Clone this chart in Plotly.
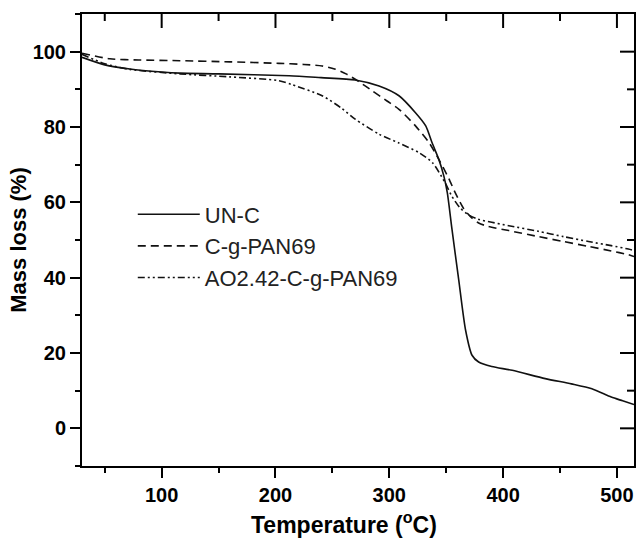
import plotly.graph_objects as go

# UN-C (solid)
t_unc = [30, 50, 72, 100, 116, 150, 212, 240, 270, 291, 308.5, 323, 332, 337.6, 343.5, 348, 351,
         355, 361, 367, 372.7, 378.5, 390, 408, 437, 460, 478, 495, 505, 515]
m_unc = [98.5, 96.5, 95.4, 94.6, 94.3, 94.1, 93.6, 93.1, 92.5, 90.9, 88.3, 83.8, 80.3, 75.8, 71.4,
         66.9, 62.5, 53, 39.4, 26.1, 19.4, 17.6, 16.4, 15.4, 13.2, 11.8, 10.5, 8.3, 7.3, 6.3]

# C-g-PAN69 (dashed)
t_pan = [30, 54.5, 80, 116, 160, 203, 225, 241, 252, 262, 273, 285, 298, 308.5, 323, 335, 343.5,
         352, 358, 365, 372, 378.5, 387, 405, 431, 453, 475, 495, 510, 515]
m_pan = [99.6, 98.1, 97.8, 97.6, 97.3, 96.9, 96.6, 96.2, 95.4, 94.1, 92.1, 89.6, 86.9, 84.7, 80.3,
         75.8, 71.4, 66.5, 62.5, 58.5, 56, 54.5, 53.6, 52.5, 50.9, 49.6, 48.3, 47.1, 46.1, 45.6]

# AO2.42-C-g-PAN69 (dash-dot-dot)
t_ao = [30, 50, 72, 116, 160, 203, 215, 241, 258, 270, 291, 308, 326, 338, 349, 355, 362, 370,
        378, 390, 405, 431, 453, 475, 495, 510, 515]
m_ao = [99.3, 96.8, 95.3, 94.1, 93.3, 92.3, 91.2, 88.3, 85.0, 82.1, 78.1, 75.8, 73.2, 70.5, 65.2,
        61.6, 58.6, 56.6, 55.5, 54.7, 53.8, 52.3, 50.9, 49.6, 48.5, 47.6, 47.2]

x_range = [30, 515]
y_range = [-10, 110]

# tick positions for the inward ticks on the top / right frame
x_major = [100, 200, 300, 400, 500]
x_minor = [50, 150, 250, 350, 450]
y_major = [0, 20, 40, 60, 80, 100]
y_minor = [10, 30, 50, 70, 90]

FONT = "Liberation Sans, Arial, sans-serif"
LC = "#111111"

fig = go.Figure()
fig.add_trace(go.Scatter(x=t_unc, y=m_unc, mode="lines", name="UN-C",
                         line=dict(color=LC, width=1.6, shape="spline", smoothing=0.7)))
fig.add_trace(go.Scatter(x=t_pan, y=m_pan, mode="lines", name="C-g-PAN69",
                         line=dict(color=LC, width=1.6, dash="8px,5px", shape="spline", smoothing=0.7)))
fig.add_trace(go.Scatter(x=t_ao, y=m_ao, mode="lines", name="AO2.42-C-g-PAN69",
                         line=dict(color=LC, width=1.6, dash="7px,3px,2px,3px,2px,3px",
                                   shape="spline", smoothing=0.7)))


# inward ticks on the top and right frame: tick-shaped markers placed on the frame edge,
# clipped to the plot area so only the inner half shows
def tick_marks(xs, ys, symbol, size):
    return go.Scatter(x=xs, y=ys, mode="markers", showlegend=False, hoverinfo="skip",
                      cliponaxis=True,
                      marker=dict(symbol=symbol, size=size, color="black",
                                  line=dict(color="black", width=2)))


fig.add_trace(tick_marks(x_major, [y_range[1]] * len(x_major), "line-ns", 20))
fig.add_trace(tick_marks(x_minor, [y_range[1]] * len(x_minor), "line-ns", 10))
fig.add_trace(tick_marks([x_range[1]] * len(y_major), y_major, "line-ew", 20))
fig.add_trace(tick_marks([x_range[1]] * len(y_minor), y_minor, "line-ew", 10))

common = dict(showline=True, linewidth=2, linecolor="black", showgrid=False, zeroline=False,
              tickwidth=2, tickcolor="black")

fig.update_layout(
    width=640, height=541,
    margin=dict(l=82, r=4, t=14, b=75),
    plot_bgcolor="white", paper_bgcolor="white",
    font=dict(family=FONT, color="black"),
    xaxis=dict(range=x_range, ticks="outside", dtick=100, tick0=0, mirror=True, ticklen=10,
               tickfont=dict(size=20, family=FONT, weight="bold"),
               minor=dict(ticks="outside", dtick=50, tick0=0, ticklen=5, tickwidth=2, tickcolor="black"),
               **common),
    yaxis=dict(range=y_range, ticks="outside", dtick=20, tick0=0, mirror=True, ticklen=10,
               tickfont=dict(size=20, family=FONT, weight="bold"),
               title=dict(text="Mass loss (%)", font=dict(size=22, family=FONT, weight="bold"),
                          standoff=0),
               minor=dict(ticks="outside", dtick=10, tick0=0, ticklen=5, tickwidth=2, tickcolor="black"),
               **common),
    legend=dict(x=0.092, y=0.603, xanchor="left", yanchor="top", bgcolor="rgba(0,0,0,0)",
                font=dict(size=22, family=FONT, color="#222222"), itemwidth=62,
                tracegroupgap=0),
    showlegend=True,
    annotations=[dict(text="Temperature (<sup>o</sup>C)", xref="paper", yref="paper",
                      x=0.475, y=-0.126, xanchor="center", yanchor="middle", showarrow=False,
                      font=dict(size=23, family=FONT, weight="bold", color="black"))],
)

fig.write_html("out.html", config={"displayModeBar": False},
               post_script="document.body.style.margin='0';document.body.style.overflow='hidden';")
